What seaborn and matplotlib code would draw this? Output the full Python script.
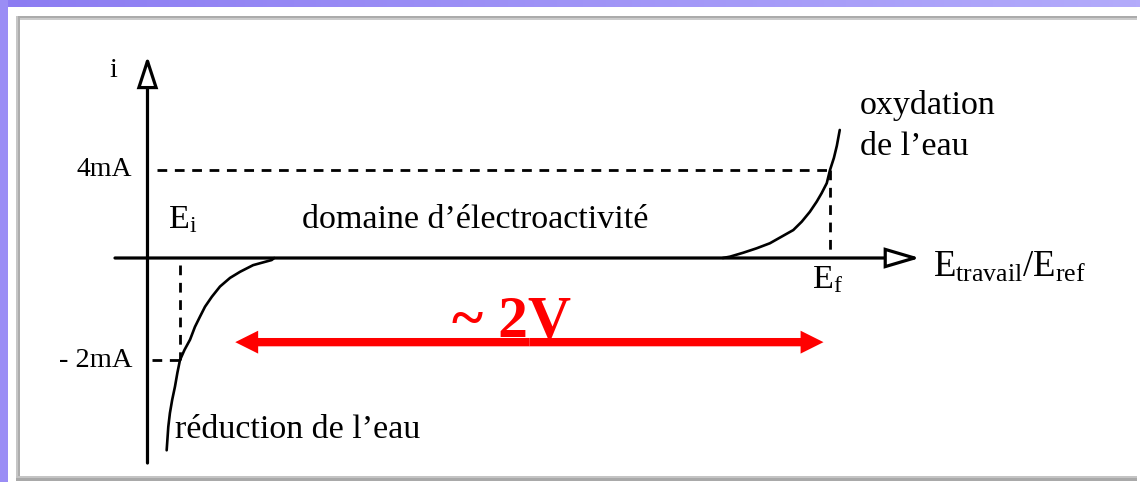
import numpy as np
import pandas as pd
import matplotlib
matplotlib.use("Agg")
import matplotlib.pyplot as plt
from matplotlib.patches import Rectangle
import seaborn as sns

# ---- data (E in V, i in mA) ----
E_red = [0.39, 0.382, 0.325, 0.285, 0.254, 0.223, 0.198, 0.177, 0.1615, 0.146,
         0.131, 0.114, 0.10, 0.092, 0.0846, 0.076, 0.069, 0.064, 0.059]
i_red = [0.0, -0.04, -0.14, -0.27, -0.39, -0.56, -0.76, -0.955, -1.15, -1.35,
         -1.60, -1.80, -2.00, -2.25, -2.52, -2.78, -3.04, -3.31, -3.77]

E_ox = [1.77, 1.792, 1.833, 1.874, 1.915, 1.951, 1.987, 2.013, 2.038, 2.059,
        2.074, 2.090, 2.10, 2.112, 2.121, 2.13]
i_ox = [0.0, 0.06, 0.24, 0.44, 0.67, 0.97, 1.27, 1.65, 2.10, 2.56,
        2.94, 3.40, 4.00, 4.55, 5.10, 5.82]

E_i = 0.10          # début du domaine
E_f = 2.10          # fin du domaine
i_high = 4          # mA
i_low = -2          # mA
tick_labels = ["4mA", "- 2mA"]
window_label = "~ 2V"
window_E = [0.27, 2.08]
window_i = -1.65

sns.set_theme(style="white")
plt.rcParams["font.family"] = ["Liberation Serif", "DejaVu Serif"]
plt.rcParams["text.color"] = "black"
plt.rcParams["mathtext.fontset"] = "custom"
plt.rcParams["mathtext.rm"] = "Liberation Serif"
plt.rcParams["mathtext.it"] = "Liberation Serif:italic"
plt.rcParams["lines.scale_dashes"] = False

fig = plt.figure(figsize=(11.4, 4.82), dpi=100, facecolor="white")

# ---- page frame ----
bg = fig.add_axes([0, 0, 1, 1], zorder=-5)
bg.set_xlim(0, 1140)
bg.set_ylim(482, 0)
bg.axis("off")
grad = np.linspace(0, 1, 256)[None, :]
bg.imshow(grad, extent=(0, 1140, 7.5, 0), aspect="auto",
          cmap=matplotlib.colors.LinearSegmentedColormap.from_list(
              "band", ["#8c7cf2", "#b3abfb"]))
bg.add_patch(Rectangle((0, 0), 7.5, 482, color="#9a8df5", lw=0))
bg.add_patch(Rectangle((16, 15.5), 1121, 2.2, color="#ababab", lw=0))
bg.add_patch(Rectangle((16, 17.7), 1121, 2.5, color="#cbcbcb", lw=0))
bg.add_patch(Rectangle((16, 15.5), 2.2, 465, color="#c6c6c6", lw=0))
bg.add_patch(Rectangle((18.2, 17.7), 2.2, 462, color="#adadad", lw=0))
bg.add_patch(Rectangle((16, 476), 1121, 2.3, color="#c4c4c4", lw=0))
bg.add_patch(Rectangle((16, 478.3), 1121, 2.3, color="#a9a9a9", lw=0))

# ---- main axes: positive and negative currents use different spacings ----
ax = fig.add_axes([0, 0, 1, 1])
ax.patch.set_alpha(0)
k_neg = 51 / 22


def fwd(y):
    y = np.asarray(y, dtype=float)
    return np.where(y < 0, y * k_neg, y)


def inv(v):
    v = np.asarray(v, dtype=float)
    return np.where(v < 0, v / k_neg, v)


ax.set_yscale("function", functions=(fwd, inv))

# ---- axes with hollow arrow heads ----
ax_lw = 2.3
ax.annotate("", xy=(2.377, 0), xytext=(-0.10, 0),
            arrowprops=dict(arrowstyle="-|>,head_length=21,head_width=6.2",
                            mutation_scale=1, lw=ax_lw, ec="black", fc="white",
                            shrinkA=0, shrinkB=0, joinstyle="miter"))
ax.annotate("", xy=(0, 9.18), xytext=(0, -4.02),
            arrowprops=dict(arrowstyle="-|>,head_length=19,head_width=6.2",
                            mutation_scale=1, lw=ax_lw, ec="black", fc="white",
                            shrinkA=0, shrinkB=0, joinstyle="miter"))

# ---- guide lines ----
dash = dict(color="black", lw=2.0, dashes=(7.0, 5.5))
ax.plot([0.03, E_f], [i_high, i_high], **dash)
ax.plot([E_f, E_f], [i_high, 0], **dash)
ax.plot([0.014, E_i], [i_low, i_low], **dash)
ax.plot([E_i, E_i], [-0.14, i_low], **dash)

# ---- current–potential curves ----
red = pd.DataFrame({"E": E_red, "i": i_red})
ox = pd.DataFrame({"E": E_ox, "i": i_ox})
sns.lineplot(data=red, x="E", y="i", sort=False, estimator=None,
             color="black", lw=1.9, ax=ax)
sns.lineplot(data=ox, x="E", y="i", sort=False, estimator=None,
             color="black", lw=1.9, ax=ax)
ax.set_xlim(-0.4538, 3.0538)
ax.set_ylim(-4.392, 11.727)
ax.axis("off")

# ---- electroactivity window arrow ----
mid = (window_E[0] + window_E[1]) / 2
red_arrow = dict(arrowstyle="simple,head_length=16.5,head_width=16.5,tail_width=6",
                 mutation_scale=1, fc="#ff0000", ec="none", shrinkA=0, shrinkB=0)
ax.annotate("", xy=(window_E[0], window_i), xytext=(mid, window_i), arrowprops=red_arrow)
ax.annotate("", xy=(window_E[1], window_i), xytext=(mid, window_i), arrowprops=red_arrow)
ax.text(0.9369, -1.55, window_label, color="#ff0000", fontsize=43,
        fontweight="bold", ha="left", va="baseline")

# ---- labels ----
fs = 24.5
ax.text(-0.106, 8.227, "i", fontsize=20, ha="center", va="baseline")
ax.text(-0.047, i_high, tick_labels[0], fontsize=20, ha="right", va="center")
ax.text(-0.047, i_low, tick_labels[1], fontsize=20.5, ha="right", va="center")
ax.text(0.0631, 1.364, r"$\mathrm{E}_{\mathrm{i}}$", fontsize=fs, ha="left", va="baseline")
ax.text(0.4754, 1.364, "domaine d’électroactivité", fontsize=fs, ha="left", va="baseline")
ax.text(2.1923, 6.545, "oxydation", fontsize=fs, ha="left", va="baseline")
ax.text(2.1923, 4.682, "de l’eau", fontsize=fs, ha="left", va="baseline")
ax.text(2.044, -0.588, r"$\mathrm{E}_{\mathrm{f}}$", fontsize=fs, ha="left", va="baseline")
ax.text(2.4169, -0.3725, r"$\mathrm{E}_{\mathrm{travail}}/\mathrm{E}_{\mathrm{ref}}$",
        fontsize=26.5, ha="left", va="baseline")
ax.text(0.0846, -3.529, "réduction de l’eau", fontsize=fs, ha="left", va="baseline")

fig.savefig("out.png", dpi=100, facecolor="white")
